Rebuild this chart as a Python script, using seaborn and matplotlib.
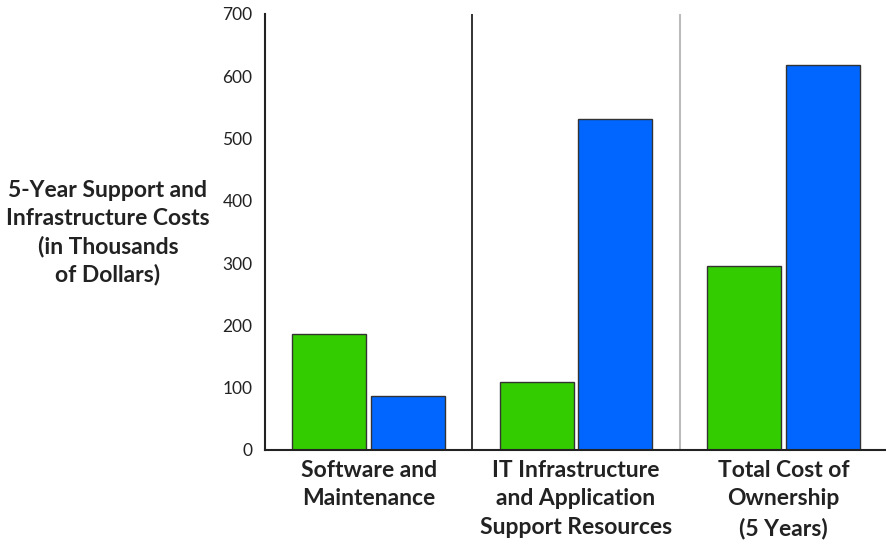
import pandas as pd
import matplotlib
matplotlib.use('Agg')
import matplotlib.pyplot as plt
import seaborn as sns

# categorias e valores (milhares de dolares)
categorias = ['Software and\nMaintenance',
              'IT Infrastructure\nand Application\nSupport Resources',
              'Total Cost of\nOwnership\n(5 Years)']
series = ['A', 'B']
valores_a = [187, 109, 296]
valores_b = [87, 531, 618]
cores = ['#33CC00', '#0066FF']

df = pd.DataFrame({
    'Categoria': categorias * 2,
    'Serie': ['A'] * 3 + ['B'] * 3,
    'Valor': valores_a + valores_b,
})

sns.set_style('white')
plt.rcParams['font.family'] = ['Lato', 'DejaVu Sans']

fig = plt.figure(figsize=(8.87, 5.42), dpi=100)
ax = fig.add_axes([265 / 887, 1 - 450 / 542, 622 / 887, 436 / 542])

sns.barplot(data=df, x='Categoria', y='Valor', hue='Serie', palette=cores,
            saturation=1, width=0.76, gap=0.06, edgecolor='#333333',
            linewidth=1, legend=False, ax=ax)

ax.set_xlim(-0.5, 2.5)
ax.set_ylim(0, 700)
ax.set_yticks(range(0, 701, 100))
ax.tick_params(axis='y', direction='in', length=15, width=1.2, color='#222222',
               labelsize=12.5, pad=9, labelcolor='#222222')
ax.tick_params(axis='x', length=0, labelsize=16.5, pad=7, labelcolor='#222222')
for lbl in ax.get_xticklabels():
    lbl.set_fontweight('bold')
    lbl.set_linespacing(1.45)

# separadores entre grupos
ax.axvline(0.5, color='#111111', lw=1.2)
ax.axvline(1.5, color='#bbbbbb', lw=1.5)

for s in ['top', 'right']:
    ax.spines[s].set_visible(False)
ax.spines['left'].set_color('#222222')
ax.spines['left'].set_linewidth(1.5)
ax.spines['bottom'].set_color('#222222')
ax.spines['bottom'].set_linewidth(1.5)

ax.set_xlabel('')
ax.set_ylabel('')
fig.text(108 / 887, 1 - 233 / 542,
         '5-Year Support and\nInfrastructure Costs\n(in Thousands\nof Dollars)',
         ha='center', va='center', fontsize=16.5, fontweight='bold',
         color='#222222', linespacing=1.38)

plt.savefig('out.png', dpi=100)
